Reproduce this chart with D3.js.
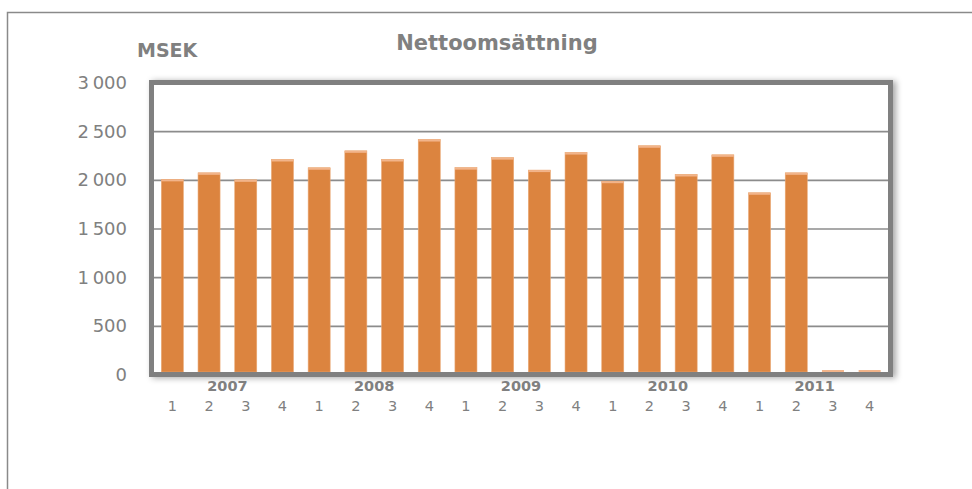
<!DOCTYPE html>
<html lang="sv">
<head>
    <meta charset="utf-8">
    <title>Nettoomsättning</title>
    <script src="https://d3js.org/d3.v7.min.js"></script>
    <style>
        body { margin: 0; background: #fff; }
        text { font-family: "DejaVu Sans", Verdana, sans-serif; fill: #808080; }
    </style>
</head>
<body>
    <svg width="972" height="489" id="chart"></svg>
    <script>
        // quarters 2007 Q1 .. 2011 Q4, MSEK
        var years = ["2007", "2008", "2009", "2010", "2011"];
        var quarters = ["1", "2", "3", "4"];
        var sales = [2005, 2072, 2000, 2209,
                     2124, 2298, 2209, 2414,
                     2125, 2228, 2100, 2280,
                     1986, 2350, 2055, 2257,
                     1867, 2072, 0, 0];
        var yTicks = [0, 500, 1000, 1500, 2000, 2500, 3000];

        function draw() {
            var svg = d3.select("#chart");
            var plotLeft = 154, plotRight = 888, plotTop = 82.5, plotBottom = 374.5;

            var defs = svg.append("defs");
            var f = defs.append("filter").attr("id", "shadow")
                .attr("x", "-5%").attr("y", "-10%").attr("width", "110%").attr("height", "120%");
            f.append("feDropShadow").attr("dx", 3).attr("dy", 1).attr("stdDeviation", 3)
                .attr("flood-color", "#000").attr("flood-opacity", 0.35);

            // outer frame
            svg.append("rect")
                .attr("x", 7.5).attr("y", 12.5).attr("width", 1000).attr("height", 600)
                .attr("fill", "none").attr("stroke", "#8a8a8a").attr("stroke-width", 1.5);

            var cats = [];
            years.forEach(function (y) { quarters.forEach(function (q) { cats.push(y + "-" + q); }); });

            var x = d3.scaleBand().domain(cats).range([plotLeft, plotRight]).paddingInner(0.4).paddingOuter(0.2);
            var yScale = d3.scaleLinear().domain([0, 3000]).range([plotBottom, plotTop]);
            var fmt = d3.formatLocale({ decimal: ",", thousands: "\u2009", grouping: [3], currency: ["", " kr"] }).format(",d");

            // plot frame with shadow
            svg.append("rect")
                .attr("x", 151.5).attr("y", 82.5).attr("width", 739).attr("height", 292)
                .attr("fill", "#fff").attr("stroke", "#808080").attr("stroke-width", 5)
                .attr("filter", "url(#shadow)");

            // gridlines
            svg.append("g")
                .attr("transform", "translate(" + plotLeft + ",0)")
                .call(d3.axisLeft(yScale).tickValues(yTicks.slice(1, -1)).tickSize(-(plotRight - plotLeft)).tickFormat(""))
                .call(function (g) {
                    g.select(".domain").remove();
                    g.selectAll(".tick line").attr("stroke", "#8c8c8c").attr("stroke-width", 1.6);
                });

            // bars
            var data = cats.map(function (c, i) { return { c: c, v: sales[i] }; });
            svg.selectAll(".bar").data(data).enter().append("rect")
                .attr("class", "bar")
                .attr("x", function (d) { return x(d.c); })
                .attr("y", function (d) { return yScale(d.v); })
                .attr("width", x.bandwidth())
                .attr("height", function (d) { return Math.max(0, plotBottom - 2.5 - yScale(d.v)); })
                .attr("fill", "#dc843f")
                .attr("stroke", "#eaa874").attr("stroke-width", 0.6);
            svg.selectAll(".bartop").data(data).enter().append("rect")
                .attr("class", "bartop")
                .attr("x", function (d) { return x(d.c); })
                .attr("y", function (d) { return Math.min(yScale(d.v), plotBottom - 4.5); })
                .attr("width", x.bandwidth())
                .attr("height", 2)
                .attr("fill", "#f2b48a");

            // redraw frame edges over bars
            svg.append("rect")
                .attr("x", 151.5).attr("y", 82.5).attr("width", 739).attr("height", 292)
                .attr("fill", "none").attr("stroke", "#808080").attr("stroke-width", 5);

            // y axis labels
            svg.append("g").attr("transform", "translate(127,0)")
                .call(d3.axisLeft(yScale).tickValues(yTicks).tickSize(0).tickPadding(0).tickFormat(fmt))
                .call(function (g) {
                    g.select(".domain").remove();
                    g.selectAll("text").attr("font-size", "18px").attr("fill", "#7f7f7f")
                        .style("font-family", "DejaVu Sans").attr("dy", "0.34em");
                });

            // x axis: quarters
            svg.append("g").attr("transform", "translate(0,401)")
                .call(d3.axisBottom(x).tickSize(0).tickPadding(0).tickFormat(function (d) { return d.split("-")[1]; }))
                .call(function (g) {
                    g.select(".domain").remove();
                    g.selectAll("text").attr("font-size", "14.5px").attr("fill", "#7f7f7f")
                        .style("font-family", "DejaVu Sans");
                });

            // x axis: years
            svg.selectAll(".year").data(years).enter().append("text")
                .attr("class", "year")
                .attr("x", function (y) { return (x(y + "-2") + x(y + "-3") + x.bandwidth()) / 2; })
                .attr("y", 391)
                .attr("text-anchor", "middle")
                .attr("font-size", "14.5px")
                .attr("font-weight", "bold")
                .text(function (y) { return y; });

            svg.append("text")
                .attr("x", 497).attr("y", 50)
                .attr("text-anchor", "middle")
                .attr("font-size", "21px").attr("font-weight", "bold")
                .text("Nettoomsättning");

            svg.append("text")
                .attr("x", 137).attr("y", 57)
                .attr("font-size", "19px").attr("font-weight", "bold")
                .text("MSEK");
        }
        draw();
    </script>
</body>
</html>
